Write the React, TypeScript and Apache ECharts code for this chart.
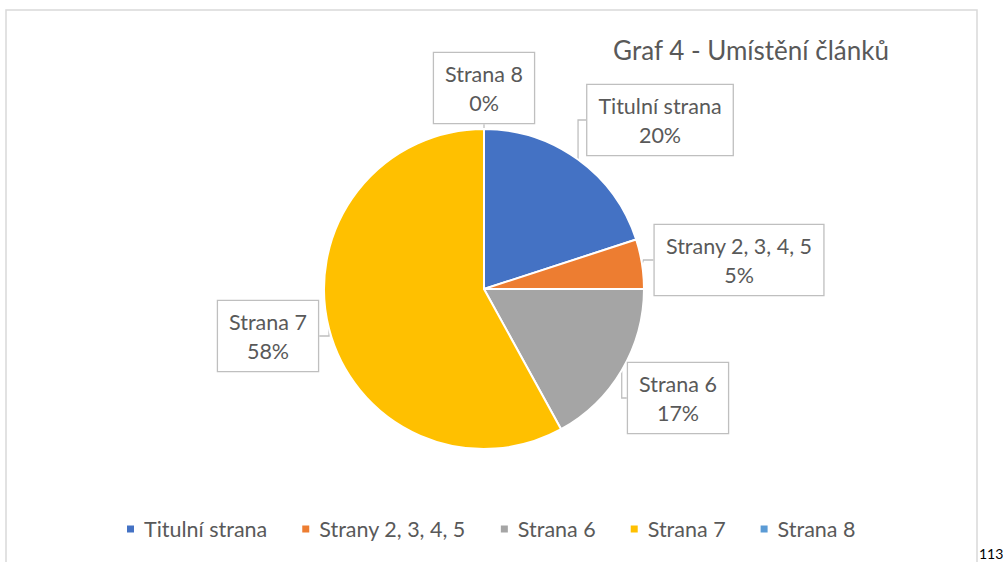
import React, { useEffect, useRef } from "react";
import * as echarts from "echarts";

const categories = ["Titulní strana", "Strany 2, 3, 4, 5", "Strana 6", "Strana 7", "Strana 8"];
const values = [20, 5, 17, 58, 0];
const colors = ["#4472C4", "#ED7D31", "#A5A5A5", "#FFC000", "#5B9BD5"];
const titleText = "Graf 4 - Umístění článků";
const pageNumber = "113";

// label box centres (layout only)
const labelPos: [number, number][] = [
  [660, 120],
  [739, 260],
  [678, 398],
  [268, 336],
  [484, 88],
];

const FONT = "Lato, 'Noto Sans', sans-serif";

export default function App() {
  const ref = useRef<HTMLDivElement>(null);
  useEffect(() => {
    document.body.style.margin = "0";
    const chart = echarts.init(ref.current!, undefined, { renderer: "svg" });
    chart.setOption({
      animation: false,
      backgroundColor: "#fff",
      title: {
        text: titleText,
        left: 746,
        top: 32,
        textAlign: "center",
        textStyle: { fontFamily: FONT, fontSize: 26, fontWeight: "normal", color: "#595959" },
      },
      legend: {
        bottom: 22,
        left: 125,
        padding: 0,
        icon: "rect",
        itemWidth: 9,
        itemHeight: 9,
        itemGap: 33,
        textStyle: { fontFamily: FONT, fontSize: 21.5, color: "#595959", padding: [0, 0, 0, 4] },
        data: categories,
      },
      graphic: [
        {
          type: "rect",
          shape: { x: 6, y: 10, width: 971, height: 570 },
          style: { fill: "none", stroke: "#d9d9d9", lineWidth: 1.5 },
          silent: true,
        },
        {
          type: "text",
          x: 979,
          y: 546,
          style: {
            text: pageNumber,
            fontFamily: FONT,
            fontSize: 14,
            fill: "#000",
          },
          silent: true,
        },
      ],
      series: [
        {
          type: "pie",
          center: [484, 289],
          radius: 160,
          startAngle: 90,
          clockwise: true,
          percentPrecision: 0,
          avoidLabelOverlap: false,
          minShowLabelAngle: 0,
          stillShowZeroSum: true,
          itemStyle: { borderColor: "#fff", borderWidth: 2 },
          color: colors,
          data: categories.map((c, i) => ({ name: c, value: values[i] })),
          label: {
            show: true,
            position: "outside",
            formatter: (p: any) => `${p.name}\n${Math.round(p.percent)}%`,
            fontFamily: FONT,
            fontSize: 21.5,
            lineHeight: 29,
            color: "#595959",
            align: "center",
            backgroundColor: "#fff",
            borderColor: "#bfbfbf",
            borderWidth: 1.3,
            padding: [6, 11],
          },
          labelLine: { show: true, length: 10, length2: 10, lineStyle: { color: "#bfbfbf", width: 1.3 } },
          labelLayout: (params: any) => {
            const p = labelPos[params.dataIndex];
            return { x: p[0], y: p[1], align: "center", verticalAlign: "middle" };
          },
        },
      ],
    });
    return () => chart.dispose();
  }, []);
  return <div ref={ref} style={{ position: "absolute", left: 0, top: 0, width: 1003, height: 562 }} />;
}
